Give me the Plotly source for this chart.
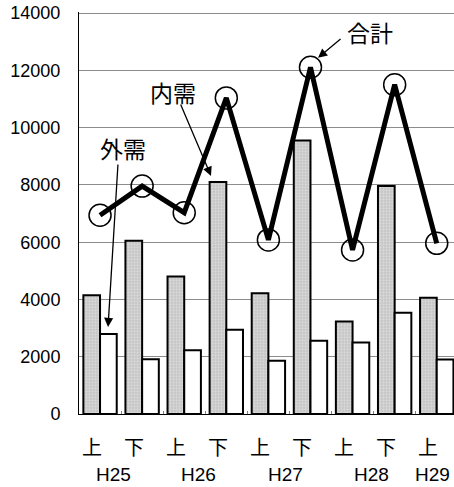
import plotly.graph_objects as go

# ---- data ----
half_labels = ["上", "下", "上", "下", "上", "下", "上", "下", "上"]
year_labels = ["H25", "H26", "H27", "H28", "H29"]
year_positions = [0.32, 2.35, 4.41, 6.44, 7.90]
domestic = [4150, 6050, 4800, 8100, 4220, 9550, 3230, 7960, 4060]   # 内需
external = [2790, 1910, 2230, 2940, 1860, 2560, 2500, 3540, 1900]   # 外需
total = [d + e for d, e in zip(domestic, external)]                  # 合計
y_ticks = [0, 2000, 4000, 6000, 8000, 10000, 12000, 14000]
y_tick_text = [str(v) for v in y_ticks]

x = list(range(len(half_labels)))

NUM_FONT = "Liberation Sans, Arial, sans-serif"
CJK_FONT = "Noto Sans CJK JP, sans-serif"

fig = go.Figure()
fig.add_trace(go.Bar(
    x=x, y=domestic, name="内需",
    marker=dict(color="#c8c8c8",
                line=dict(color="black", width=2),
                pattern=dict(shape=".", bgcolor="#c4c4c4", fgcolor="#eeeeee",
                             size=3, solidity=0.45)),
))
fig.add_trace(go.Bar(
    x=x, y=external, name="外需",
    marker=dict(color="white", line=dict(color="black", width=2)),
))
fig.add_trace(go.Scatter(
    x=x, y=total, name="合計", mode="lines+markers",
    line=dict(color="black", width=5),
    marker=dict(symbol="circle-open", size=22, color="black",
                line=dict(color="black", width=1.5)),
    cliponaxis=False,
))

annotations = []
for i, t in enumerate(half_labels):
    annotations.append(dict(x=i - 0.2, y=-0.08, xref="x", yref="paper",
                            text=t, showarrow=False, yanchor="middle",
                            font=dict(family=CJK_FONT, size=20, color="black")))
for p, t in zip(year_positions, year_labels):
    annotations.append(dict(x=p, y=-0.15, xref="x", yref="paper",
                            text=t, showarrow=False, yanchor="middle",
                            font=dict(family=NUM_FONT, size=19, color="black")))

# series labels with arrows
def label(text, tx, ty, hx, hy, ax, ay):
    annotations.append(dict(x=tx, y=ty, xref="x", yref="y", text=text,
                            showarrow=False,
                            font=dict(family=CJK_FONT, size=23, color="black")))
    annotations.append(dict(x=hx, y=hy, xref="x", yref="y", text="",
                            showarrow=True, ax=ax, ay=ay, axref="pixel", ayref="pixel",
                            arrowhead=2, arrowsize=1.4, arrowwidth=1.3,
                            arrowcolor="black", standoff=0, startstandoff=0))

label("外需", 0.546, 9294, 0.19, 3040, 10, -164)
label("内需", 1.734, 11251, 2.637, 8316, -31, -73)
label("合計", 6.41, 13347, 5.18, 12439, 24, -20)

fig.update_layout(
    width=454, height=487,
    margin=dict(l=79, r=0, t=12, b=73, autoexpand=False),
    paper_bgcolor="white", plot_bgcolor="white",
    barmode="group", bargap=0.207, bargroupgap=0,
    showlegend=False,
    annotations=annotations,
    font=dict(family=NUM_FONT, size=18, color="black"),
)
fig.update_xaxes(
    range=[-0.5, 8.41], showgrid=False, automargin=False,
    tickvals=[i + 0.5 for i in range(-1, 8)], ticktext=[""] * 9,
    ticks="inside", ticklen=3, tickcolor="#808080",
    showline=True, linecolor="black", linewidth=1,
    zeroline=False,
)
fig.update_yaxes(
    range=[0, 14040], tickvals=y_ticks, ticktext=y_tick_text, automargin=False,
    showgrid=True, gridcolor="#8c8c8c", gridwidth=1,
    showline=True, linecolor="black", linewidth=1,
    zeroline=False, ticks="", ticklabelstandoff=14,
    tickfont=dict(family=NUM_FONT, size=18, color="black"),
)

fig.write_html("out.html",
               config={"displayModeBar": False},
               post_script="document.body.style.margin='0';")
